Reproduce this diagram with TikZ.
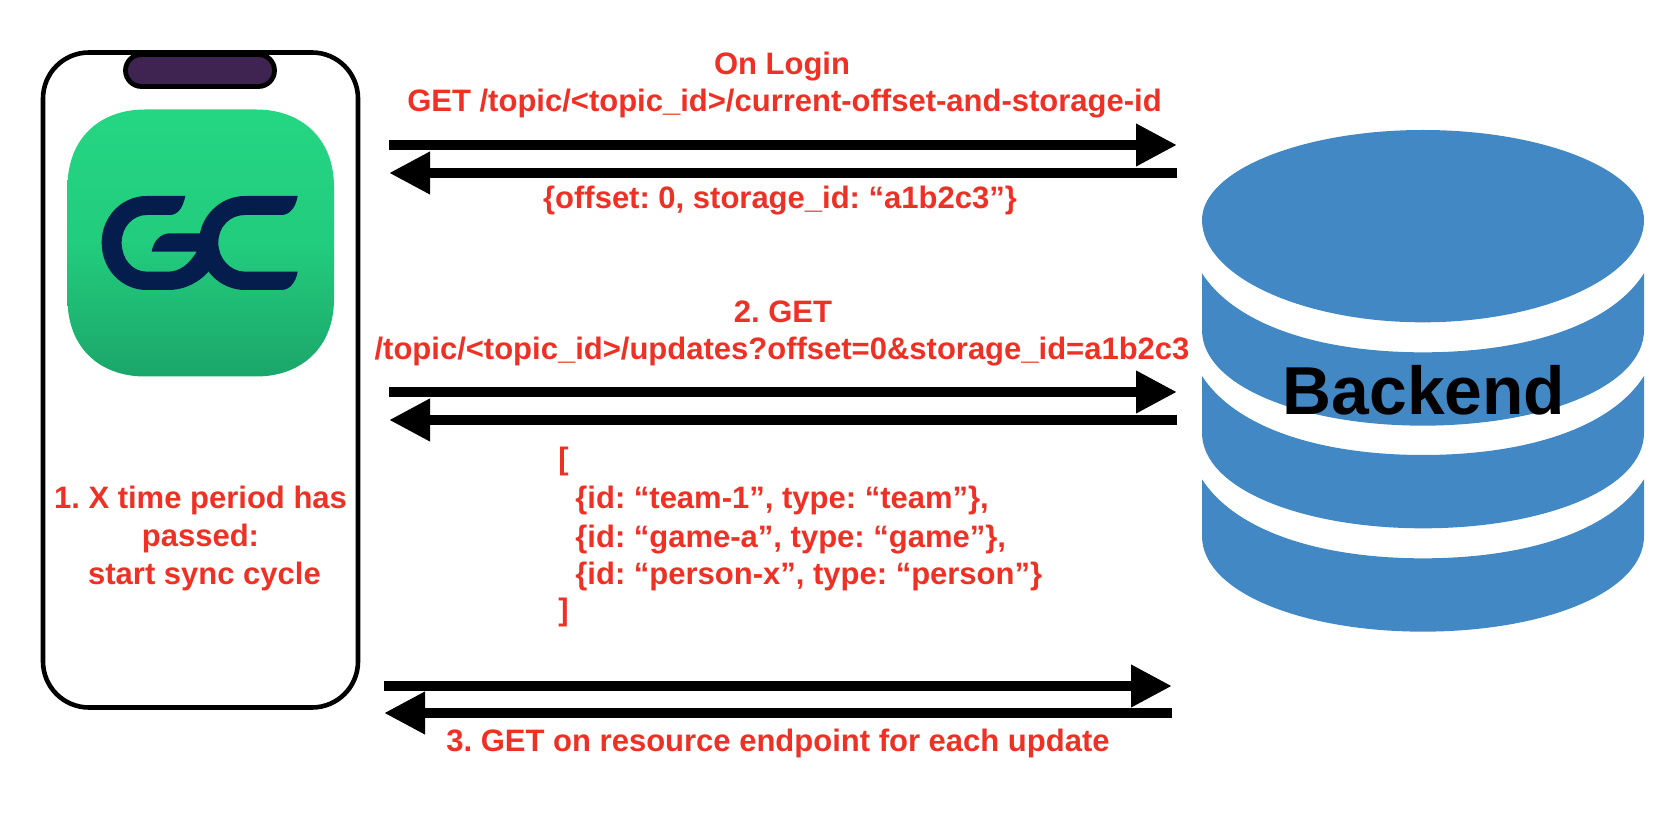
\documentclass[tikz,border=0pt]{standalone}
\usepackage{fontspec}
\setmainfont{Liberation Sans}
\usetikzlibrary{arrows.meta,positioning}

\definecolor{labelred}{HTML}{EE3124}
\definecolor{dbblue}{HTML}{4288C5}
\definecolor{notchpurple}{HTML}{3F2350}
\definecolor{iconnavy}{HTML}{051D4C}
\definecolor{icontop}{HTML}{24D682}
\definecolor{iconbottom}{HTML}{1BA66A}

\tikzset{
  redlabel/.style={text=labelred,inner sep=0pt,font=\fontsize{15.5}{19}\selectfont\bfseries\frenchspacing},
  bigarrow/.style={line width=5pt,-{Triangle[length=20.5pt,width=20pt]}},
  phonebox/.style={draw,line width=2.3pt,rounded corners=23pt,minimum width=157.5pt,minimum height=327.5pt,inner sep=0pt},
  notchbox/.style={draw,fill=notchpurple,line width=2.4pt,rounded corners=8pt,minimum width=74.5pt,minimum height=16pt,inner sep=0pt}
}

\begin{document}
\begin{tikzpicture}[x=0.5pt,y=-0.5pt]
  \useasboundingbox (0,0) rectangle (1680,822);

  % phone
  \node[phonebox] (phone) at (200.5,380) {};
  \node[notchbox] (notch) at (200,70.5) {};

  % app icon
  \shade[top color=icontop,bottom color=iconbottom,middle color=icontop!80!iconbottom]
    (67.5,187) .. controls (67.5,138) and (100,109.5) .. (145,109.5) -- (256,109.5)
    .. controls (301,109.5) and (334,138) .. (334,187) -- (334,299)
    .. controls (334,348) and (301,376.5) .. (256,376.5) -- (145,376.5)
    .. controls (100,376.5) and (67.5,348) .. (67.5,299) -- cycle;
  \begin{scope}[shift={(0,20)},scale=1/3]
    \fill[iconnavy]
      (556,528) -- (440,528) .. controls (365,528) and (305,590) .. (305,668)
      .. controls (305,748) and (365,810) .. (440,810) -- (505,810)
      .. controls (555,810) and (600,785) .. (625,755) -- (620,640) -- (510,640)
      .. controls (480,640) and (460,665) .. (455,695) -- (590,695)
      .. controls (570,730) and (540,755) .. (505,755) -- (440,755)
      .. controls (395,755) and (365,715) .. (365,668)
      .. controls (365,620) and (400,585) .. (440,585) -- (510,585)
      .. controls (535,585) and (550,560) .. (556,528) -- cycle;
    \fill[iconnavy]
      (893,528) -- (735,528) .. controls (660,528) and (597,590) .. (597,668)
      .. controls (597,748) and (660,810) .. (735,810) -- (845,810)
      .. controls (870,810) and (888,785) .. (893,755) -- (735,755)
      .. controls (690,755) and (655,715) .. (655,668)
      .. controls (655,620) and (690,585) .. (735,585) -- (845,585)
      .. controls (870,585) and (888,560) .. (893,528) -- cycle;
  \end{scope}

  % database
  \begin{scope}[shift={(1180,130)},scale=1/3]
    \fill[dbblue]
      (66,270) .. controls (66,120) and (370,0) .. (729,0)
      .. controls (1090,0) and (1392,120) .. (1392,270)
      .. controls (1392,440) and (1090,577) .. (729,577)
      .. controls (370,577) and (66,440) .. (66,270) -- cycle;
    \foreach \dy in {0,308,618}
      \fill[dbblue,shift={(0,\dy)}]
        (66,430) .. controls (170,590) and (430,667) .. (729,667)
        .. controls (1030,667) and (1290,590) .. (1392,430) -- (1392,600)
        .. controls (1392,770) and (1090,887) .. (729,887)
        .. controls (370,887) and (66,770) .. (66,600) -- cycle;
  \end{scope}
  \node[anchor=base,inner sep=0pt,font=\fontsize{33.9}{40}\selectfont\bfseries] (backend) at (1424,415) {Backend};

  % login request
  \coordinate (loginA) at (389,145);
  \coordinate (loginB) at (1177,145);
  \coordinate (loginC) at (1177,173);
  \coordinate (loginD) at (389,173);
  \draw[bigarrow] (loginA) -- (loginB);
  \draw[bigarrow] (loginC) -- (loginD);

  % updates request
  \coordinate (updatesA) at (389,392);
  \coordinate (updatesB) at (1177,392);
  \coordinate (updatesC) at (1177,420);
  \coordinate (updatesD) at (389,420);
  \draw[bigarrow] (updatesA) -- (updatesB);
  \draw[bigarrow] (updatesC) -- (updatesD);

  % resource request
  \coordinate (resourceA) at (384,686);
  \coordinate (resourceB) at (1172,686);
  \coordinate (resourceC) at (1172,713);
  \coordinate (resourceD) at (384,713);
  \draw[bigarrow] (resourceA) -- (resourceB);
  \draw[bigarrow] (resourceC) -- (resourceD);

  % labels
  \node[redlabel,anchor=base] (onlogin) at (782,75) {On Login};
  \node[redlabel,anchor=base] (loginget) at (784.5,112) {GET /topic/<topic\_id>/current-offset-and-storage-id};
  \node[redlabel,anchor=base] (loginreply) at (780,209) {\{offset: 0, storage\_id: “a1b2c3”\}};
  \node[redlabel,anchor=base] (stepone) at (200.5,509) {1. X time period has};
  \node[redlabel,anchor=base] (steponeb) at (200.5,547) {passed:};
  \node[redlabel,anchor=base] (steponec) at (204.5,585) {start sync cycle};
  \node[redlabel,anchor=base] (steptwo) at (783,323) {2. GET};
  \node[redlabel,anchor=base] (updatesget) at (782,360) {/topic/<topic\_id>/updates?offset=0\&storage\_id=a1b2c3};
  \node[redlabel,anchor=base west] (jsonopen) at (558,470) {[};
  \node[redlabel,anchor=base west] (jsonteam) at (575,509) {\{id: “team-1”, type: “team”\},};
  \node[redlabel,anchor=base west] (jsongame) at (575,548) {\{id: “game-a”, type: “game”\},};
  \node[redlabel,anchor=base west] (jsonperson) at (575,585) {\{id: “person-x”, type: “person”\}};
  \node[redlabel,anchor=base west] (jsonclose) at (558,621) {]};
  \node[redlabel,anchor=base] (stepthree) at (778,751) {3. GET on resource endpoint for each update};
\end{tikzpicture}
\end{document}
